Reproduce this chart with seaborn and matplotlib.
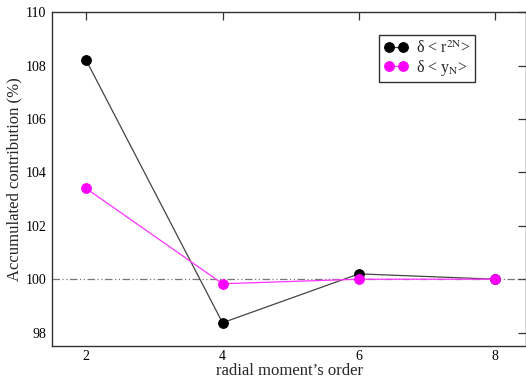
import matplotlib
matplotlib.use("Agg")
import matplotlib.pyplot as plt
import seaborn as sns

orders = [2, 4, 6, 8]
r2n = [108.2, 98.37, 100.2, 100.0]
yn = [103.4, 99.83, 100.0, 100.0]
yticks = [98, 100, 102, 104, 106, 108, 110]
xticks = [2, 4, 6, 8]

sns.set_theme(style="white")
plt.rcParams['font.family'] = ['Liberation Serif', 'DejaVu Serif']
plt.rcParams['mathtext.fontset'] = 'stix'

fig = plt.figure(figsize=(5.26, 3.78), dpi=100)
ax = fig.add_axes([0.0989, 0.0847, 0.9011, 0.8833])

ax.axhline(100, color='#777777', lw=0.9, dashes=[6, 2, 1, 2, 1, 2], zorder=1)

sns.lineplot(x=orders, y=r2n, ax=ax, color='#444444', lw=0.9, marker='o',
             markersize=7, markerfacecolor='black', markeredgecolor='black',
             label='δ < r$^{\\mathrm{2N}}$>', zorder=2)
sns.lineplot(x=orders, y=yn, ax=ax, color='#ff33ff', lw=0.9, marker='o',
             markersize=7, markerfacecolor='#ff00ff', markeredgecolor='#ff00ff',
             label='δ < y$_{\\mathrm{N}}$>', zorder=3)

ax.set_xlim(1.5, 8.45)
ax.set_ylim(97.5, 110)
ax.set_xticks(xticks)
ax.set_yticks(yticks)
ax.set_xticklabels([str(v) for v in xticks])
ax.set_yticklabels([str(v) for v in yticks])
ax.tick_params(direction='in', length=6, width=0.9, top=True, right=True,
               labelsize=10, colors='#333333', labelcolor='black', pad=4)
ax.tick_params(axis='x', pad=3)
for s in ax.spines.values():
    s.set_color('#333333')
    s.set_linewidth(1.0)

ax.set_xlabel("radial moment\u2019s order", fontsize=12, labelpad=-0.3)
ax.set_ylabel("Accumulated contribution (%)", fontsize=12, labelpad=2)

handles, labels = ax.get_legend_handles_labels()
handles = handles[:2]
labels = labels[:2]
leg = ax.legend(handles, labels, loc='upper right', bbox_to_anchor=(0.893, 0.93),
                numpoints=2, fontsize=11.5, frameon=True, fancybox=False,
                handlelength=1.5, borderpad=0.3, labelspacing=0.05,
                handletextpad=0.5, borderaxespad=0)
leg.get_frame().set_edgecolor('black')
leg.get_frame().set_linewidth(1.0)

fig.savefig("out.png", dpi=100)
